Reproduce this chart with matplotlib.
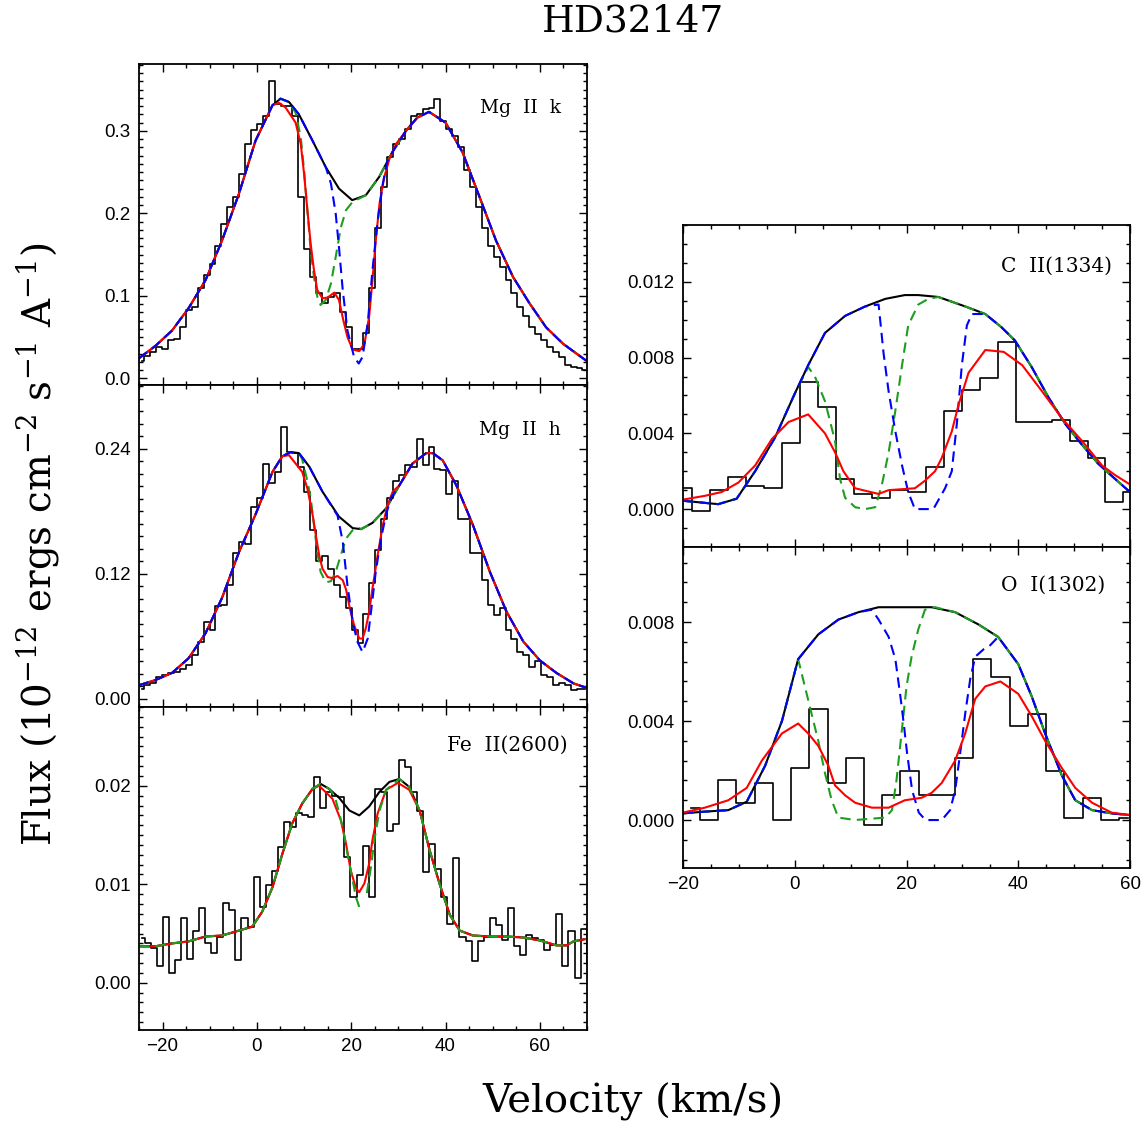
import numpy as np
import matplotlib
matplotlib.use('Agg')
import matplotlib.pyplot as plt
from matplotlib.ticker import MultipleLocator, FormatStrFormatter

plt.rcParams['mathtext.fontset'] = 'dejavuserif'
plt.rcParams['axes.unicode_minus'] = True

BLUE = '#0000ff'
GREEN = '#1e9e1e'
RED = '#ff0000'

# ---------------- Mg II k ----------------
mgk_hist_v0, mgk_hist_dv = -24.47, 1.255   # centre of first bin, bin width
mgk_hist = [0.021, 0.027, 0.032, 0.038, 0.035, 0.047, 0.048, 0.062, 0.083, 0.087,
            0.110, 0.125, 0.139, 0.160, 0.187, 0.208, 0.220, 0.248, 0.284, 0.301,
            0.308, 0.318, 0.360, 0.333, 0.330, 0.330, 0.318, 0.220, 0.157, 0.123,
            0.104, 0.091, 0.099, 0.103, 0.081, 0.062, 0.035, 0.035, 0.055, 0.110,
            0.182, 0.232, 0.268, 0.284, 0.290, 0.302, 0.318, 0.320, 0.326, 0.328,
            0.338, 0.312, 0.302, 0.294, 0.280, 0.252, 0.232, 0.208, 0.182, 0.161,
            0.147, 0.135, 0.119, 0.103, 0.087, 0.075, 0.062, 0.054, 0.046, 0.038,
            0.032, 0.026, 0.016, 0.014, 0.012, 0.010]
mgk_v = [-25.1, -21.6, -18.0, -14.5, -10.9, -7.4, -3.8, -0.3, 3.3, 5.0, 6.8, 8.9, 11.8,
         14.6, 17.4, 20.2, 23.1, 25.9, 28.7, 31.6, 34.0, 36.5, 40.0, 43.6, 47.2, 50.7,
         54.3, 57.8, 61.3, 64.9, 69.7, 71.0]
mgk_f = [0.024, 0.039, 0.058, 0.085, 0.119, 0.167, 0.224, 0.288, 0.331, 0.339, 0.335,
         0.320, 0.288, 0.256, 0.230, 0.216, 0.222, 0.244, 0.274, 0.300, 0.316, 0.323,
         0.310, 0.274, 0.220, 0.167, 0.123, 0.091, 0.062, 0.042, 0.022, 0.019]
mgk_red_v = [4.7, 6.1, 8.2, 9.3, 10.0, 10.7, 11.4, 12.1, 12.8, 13.9, 15.0, 16.4, 17.4,
             18.3, 19.2, 20.3, 21.7, 22.8, 23.8, 24.5, 25.2, 26.0, 27.0, 28.1, 29.5, 31.6]
mgk_red_f = [0.334, 0.328, 0.310, 0.284, 0.248, 0.204, 0.163, 0.131, 0.107, 0.097, 0.098,
             0.104, 0.095, 0.071, 0.050, 0.035, 0.033, 0.042, 0.075, 0.119, 0.167, 0.212,
             0.244, 0.266, 0.284, 0.300]
mgk_blue_v = [15.7, 16.7, 17.4, 18.2, 19.2, 20.6, 21.6, 22.4, 23.5, 24.5, 25.6, 26.7, 27.7]
mgk_blue_f = [0.236, 0.200, 0.159, 0.107, 0.058, 0.026, 0.018, 0.026, 0.067, 0.131, 0.191,
              0.236, 0.264]
mgk_green_v = [8.2, 9.3, 10.0, 10.7, 11.4, 12.1, 12.8, 13.5, 14.6, 15.7, 16.7, 17.8, 18.9, 20.3]
mgk_green_f = [0.322, 0.292, 0.252, 0.204, 0.155, 0.123, 0.099, 0.089, 0.095, 0.115, 0.147,
               0.183, 0.204, 0.214]

# ---------------- Mg II h ----------------
mgh_hist_v0, mgh_hist_dv = -24.47, 1.255
mgh_hist = [0.010, 0.013, 0.015, 0.021, 0.023, 0.025, 0.026, 0.029, 0.033, 0.042,
            0.055, 0.074, 0.066, 0.089, 0.090, 0.109, 0.140, 0.151, 0.149, 0.184,
            0.193, 0.226, 0.207, 0.218, 0.261, 0.237, 0.236, 0.223, 0.199, 0.162,
            0.132, 0.137, 0.125, 0.109, 0.098, 0.087, 0.066, 0.054, 0.082, 0.111,
            0.143, 0.173, 0.193, 0.209, 0.215, 0.225, 0.223, 0.250, 0.225, 0.242,
            0.221, 0.220, 0.197, 0.209, 0.173, 0.173, 0.140, 0.140, 0.114, 0.090,
            0.081, 0.087, 0.066, 0.058, 0.045, 0.042, 0.031, 0.036, 0.023, 0.021,
            0.013, 0.015, 0.013, 0.009, 0.010, 0.010]
mgh_v = [-25.1, -21.6, -18.0, -14.5, -10.9, -7.4, -3.8, -0.3, 3.3, 5.4, 7.2, 8.9, 11.1,
         13.9, 17.4, 20.3, 22.1, 24.5, 27.4, 30.2, 33.0, 35.9, 37.3, 39.4, 42.3, 45.8,
         49.4, 52.9, 56.5, 60.0, 63.5, 67.1, 70.3]
mgh_f = [0.013, 0.018, 0.025, 0.039, 0.063, 0.097, 0.141, 0.177, 0.218, 0.233, 0.237,
         0.236, 0.223, 0.199, 0.175, 0.164, 0.163, 0.169, 0.183, 0.205, 0.226, 0.236,
         0.236, 0.229, 0.205, 0.167, 0.122, 0.084, 0.055, 0.037, 0.025, 0.015, 0.010]
mgh_red_v = [6.8, 9.6, 10.7, 11.8, 12.5, 13.2, 13.9, 15.0, 16.0, 17.1, 18.2, 18.9, 19.7,
             20.6, 21.7, 22.4, 23.1, 23.8, 24.5, 25.6, 26.7, 27.7, 28.8]
mgh_red_f = [0.234, 0.218, 0.202, 0.177, 0.157, 0.138, 0.125, 0.117, 0.116, 0.118, 0.114,
             0.105, 0.087, 0.071, 0.058, 0.058, 0.068, 0.084, 0.106, 0.138, 0.167, 0.186,
             0.199]
mgh_blue_v = [17.1, 18.2, 19.2, 20.3, 21.3, 22.4, 23.5, 24.2, 25.2, 26.3, 27.4, 28.4]
mgh_blue_f = [0.176, 0.151, 0.109, 0.074, 0.055, 0.045, 0.058, 0.084, 0.122, 0.154, 0.177,
              0.193]
mgh_green_v = [9.6, 10.7, 11.4, 12.1, 12.8, 13.5, 14.6, 15.7, 16.7, 17.8, 18.9, 20.3, 21.7]
mgh_green_f = [0.230, 0.209, 0.193, 0.167, 0.141, 0.122, 0.112, 0.113, 0.122, 0.138, 0.154,
               0.162, 0.164]

# ---------------- Fe II 2600 ----------------
fe_hist_v0, fe_hist_dv = -24.46, 1.284
fe_hist = [0.0045, 0.0040, 0.0035, 0.0017, 0.0067, 0.0010, 0.0023, 0.0066, 0.0024, 0.0053,
           0.0076, 0.0040, 0.0030, 0.0047, 0.0081, 0.0074, 0.0023, 0.0066, 0.0057, 0.0107,
           0.0077, 0.0099, 0.0114, 0.0138, 0.0163, 0.0158, 0.0172, 0.0170, 0.0168, 0.0209,
           0.0177, 0.0194, 0.0190, 0.0189, 0.0128, 0.0087, 0.0109, 0.0139, 0.0087, 0.0197,
           0.0194, 0.0154, 0.0161, 0.0226, 0.0219, 0.0194, 0.0174, 0.0113, 0.0141, 0.0116,
           0.0087, 0.0060, 0.0127, 0.0047, 0.0042, 0.0022, 0.0042, 0.0047, 0.0066, 0.0059,
           0.0043, 0.0076, 0.0037, 0.0028, 0.0049, 0.0045, 0.0043, 0.0033, 0.0038, 0.0070,
           0.0017, 0.0053, 0.0005, 0.0055, 0.0020]
fe_v = [-25.1, -21.6, -18.0, -14.5, -10.9, -7.4, -3.8, -1.0, 1.1, 3.3, 5.4, 7.5, 9.6, 11.8,
        13.5, 15.3, 17.4, 19.6, 21.7, 23.8, 26.0, 28.1, 30.2, 32.3, 34.5, 36.6, 38.7, 40.9,
        43.0, 45.8, 49.4, 52.9, 56.5, 60.0, 63.5, 65.7, 67.1, 70.3]
fe_f = [0.0037, 0.0037, 0.0040, 0.0042, 0.0047, 0.0048, 0.0053, 0.0057, 0.0072, 0.0097,
        0.0131, 0.0162, 0.0182, 0.0197, 0.0202, 0.0197, 0.0188, 0.0175, 0.0170, 0.0179,
        0.0194, 0.0204, 0.0207, 0.0199, 0.0175, 0.0135, 0.0101, 0.0069, 0.0053, 0.0048,
        0.0047, 0.0047, 0.0046, 0.0043, 0.0038, 0.0038, 0.0042, 0.0045]
fe_red_v = [13.2, 16.0, 17.8, 18.9, 19.9, 21.0, 21.7, 22.8, 23.8, 24.5, 25.6, 27.4, 29.9, 32.3]
fe_red_f = [0.0200, 0.0187, 0.0165, 0.0141, 0.0114, 0.0096, 0.0092, 0.0101, 0.0121, 0.0145,
            0.0172, 0.0196, 0.0203, 0.0196]
fe_green1_v = [16.0, 16.7, 18.2, 19.2, 20.3, 21.0, 21.7]
fe_green1_f = [0.0193, 0.0186, 0.0158, 0.0131, 0.0104, 0.0087, 0.0077]
fe_green2_v = [23.3, 24.2, 24.9, 26.0, 27.4, 30.2]
fe_green2_f = [0.0091, 0.0118, 0.0145, 0.0175, 0.0196, 0.0207]

# ---------------- C II 1334 ----------------
c2_hist_v0, c2_hist_dv = -20.06, 3.22
c2_hist = [0.0011, -0.0001, 0.0010, 0.0017, 0.0012, 0.0011, 0.0035, 0.0067, 0.0054, 0.0016,
           0.0008, 0.0006, 0.0010, 0.0009, 0.0022, 0.0052, 0.0063, 0.0069, 0.0088, 0.0046,
           0.0046, 0.0047, 0.0036, 0.0027, 0.0004, 0.0009]
c2_v = [-20.0, -13.7, -10.4, -7.1, -3.5, 0.0, 2.4, 5.4, 9.0, 12.6, 16.2, 19.7, 22.1, 25.7,
        30.5, 34.1, 37.0, 39.4, 42.4, 45.4, 48.4, 51.4, 54.3, 57.3, 60.0]
c2_f = [0.00044, 0.00026, 0.00055, 0.0020, 0.0038, 0.0061, 0.0076, 0.0093, 0.0102, 0.0107,
        0.0111, 0.0113, 0.0113, 0.0112, 0.0107, 0.0103, 0.0096, 0.0089, 0.0075, 0.0059,
        0.0045, 0.0034, 0.0024, 0.0016, 0.0009]
c2_blue_v = [15.0, 15.9, 16.8, 18.0, 19.2, 20.3, 21.5, 22.7, 24.8, 26.9, 28.1, 29.0, 29.9,
             30.8, 31.7, 34.1]
c2_blue_f = [0.0108, 0.0082, 0.0062, 0.0041, 0.0023, 0.0009, 0.0000, 0.0000, 0.0000,
             0.0011, 0.0020, 0.0045, 0.0076, 0.0097, 0.0103, 0.0103]
c2_green_v = [2.4, 3.6, 5.4, 7.2, 8.1, 9.0, 10.8, 12.6, 14.4, 15.6, 16.8, 18.0, 19.2, 20.3,
              22.1, 23.9]
c2_green_f = [0.0075, 0.0070, 0.0057, 0.0036, 0.0016, 0.0006, 0.0001, 0.0000, 0.0001,
              0.0013, 0.0030, 0.0052, 0.0076, 0.0097, 0.0108, 0.0111]
c2_red_v = [-20.0, -16.1, -13.1, -10.1, -7.1, -4.1, -1.1, 2.4, 5.4, 7.2, 8.7, 10.8, 15.0,
            16.8, 21.5, 23.3, 25.1, 26.3, 28.1, 29.3, 31.1, 34.1, 37.4, 40.7, 44.3, 47.8,
            51.4, 55.0, 57.3, 60.0]
c2_red_f = [0.0005, 0.0007, 0.0009, 0.0014, 0.0023, 0.0037, 0.0046, 0.0050, 0.0040, 0.0030,
            0.0020, 0.0011, 0.0008, 0.0010, 0.0011, 0.0015, 0.0020, 0.0027, 0.0041, 0.0055,
            0.0072, 0.0084, 0.0083, 0.0076, 0.0062, 0.0048, 0.0036, 0.0023, 0.0018, 0.0013]

# ---------------- O I 1302 ----------------
o1_hist_v0, o1_hist_dv = -18.59, 3.26
o1_hist = [0.0005, 0.0000, 0.0016, 0.0007, 0.0015, 0.0000, 0.0021, 0.0045, 0.0015, 0.0025,
           -0.0002, 0.0010, 0.0020, 0.0010, 0.0010, 0.0025, 0.0065, 0.0058, 0.0038, 0.0043,
           0.0020, 0.0001, 0.0009, 0.0000, 0.0001]
o1_v = [-20.0, -16.1, -11.9, -8.6, -5.3, -2.3, 0.6, 4.2, 7.8, 11.4, 15.0, 19.7, 24.5,
        28.7, 32.9, 36.4, 40.0, 42.4, 44.8, 47.8, 50.2, 53.2, 56.7, 60.0]
o1_f = [0.00027, 0.00034, 0.0004, 0.00074, 0.0022, 0.0040, 0.0065, 0.0075, 0.0081, 0.0084,
        0.0086, 0.0086, 0.0086, 0.0084, 0.0079, 0.0074, 0.0063, 0.0050, 0.0035, 0.0018,
        0.0008, 0.0004, 0.00027, 0.0002]
o1_blue_v = [13.8, 15.0, 16.8, 18.0, 18.9, 19.5, 20.1, 21.0, 22.2, 23.4, 26.3, 27.8, 28.7,
             29.6, 30.5, 31.4, 32.3, 33.8, 34.7, 36.4]
o1_blue_f = [0.0085, 0.0081, 0.0074, 0.0065, 0.0050, 0.0039, 0.0027, 0.0012, 0.0003, 0.0,
             0.0, 0.0004, 0.0012, 0.0027, 0.0043, 0.0057, 0.0066, 0.0069, 0.0070, 0.0074]
o1_green_v = [0.6, 1.8, 3.0, 4.2, 5.4, 6.6, 7.8, 10.8, 16.2, 17.4, 18.2, 19.1, 20.0, 20.9,
              22.1, 23.3, 25.1]
o1_green_f = [0.0065, 0.0054, 0.0043, 0.0032, 0.0019, 0.0008, 0.0001, 0.0, 0.0001, 0.0004,
              0.0016, 0.0035, 0.0054, 0.0066, 0.0077, 0.0085, 0.0086]
o1_red_v = [-20.0, -16.1, -11.9, -8.6, -5.9, -2.3, 0.6, 2.4, 4.2, 6.0, 7.2, 9.0, 10.8,
            13.8, 16.8, 19.7, 22.7, 24.5, 26.3, 28.7, 30.5, 32.3, 34.1, 36.8, 40.0, 42.4,
            44.8, 47.8, 50.2, 53.2, 56.7, 60.0]
o1_red_f = [0.0003, 0.0005, 0.0008, 0.0013, 0.0024, 0.0035, 0.0039, 0.0035, 0.0030, 0.0022,
            0.0014, 0.0010, 0.0007, 0.0005, 0.0005, 0.0008, 0.0009, 0.0011, 0.0015, 0.0024,
            0.0035, 0.0049, 0.0054, 0.0056, 0.0051, 0.0042, 0.0032, 0.0021, 0.0013, 0.0007,
            0.0003, 0.0002]


def merge(bv, bf, sv, sf):
    bv = np.asarray(bv, float); bf = np.asarray(bf, float)
    sv = np.asarray(sv, float); sf = np.asarray(sf, float)
    m = (bv < sv[0]) | (bv > sv[-1])
    v = np.concatenate([bv[m], sv]); f = np.concatenate([bf[m], sf])
    o = np.argsort(v)
    return v[o], f[o]


def hist_centers(v0, dv, vals):
    return v0 + dv * np.arange(len(vals))


fig = plt.figure(figsize=(11.47, 11.25), dpi=100)

LW = 1.5
HLW = 1.2
DASH = (5, 3)
SERIF = 'DejaVu Serif'

def style(ax, xlim, ylim, ymaj, ymin, fmt, show_x):
    ax.set_xlim(*xlim)
    ax.set_ylim(*ylim)
    ax.xaxis.set_major_locator(MultipleLocator(20))
    ax.xaxis.set_minor_locator(MultipleLocator(5))
    ax.yaxis.set_major_locator(MultipleLocator(ymaj))
    ax.yaxis.set_minor_locator(MultipleLocator(ymin))
    ax.yaxis.set_major_formatter(FormatStrFormatter(fmt))
    ax.tick_params(which='both', direction='in', top=True, right=True, width=1.0,
                   labelsize=13.5, pad=6)
    ax.tick_params(which='major', length=6)
    ax.tick_params(which='minor', length=3)
    for lab in ax.get_xticklabels() + ax.get_yticklabels():
        lab.set_family('Liberation Sans')
    if not show_x:
        ax.tick_params(labelbottom=False)
    for s in ax.spines.values():
        s.set_linewidth(1.3)


def label(ax, x, y, txt, size=14.5):
    ax.text(x, y, txt, transform=ax.transAxes, ha='right', va='center',
            fontsize=size, family=SERIF)


# panel 1: Mg II k
ax1 = fig.add_axes([0.1212, 0.6578, 0.3906, 0.2853])
ax1.step(hist_centers(mgk_hist_v0, mgk_hist_dv, mgk_hist), mgk_hist, where='mid',
         color='black', lw=HLW)
ax1.plot(mgk_v, mgk_f, color='black', lw=LW)
gv, gf = merge(mgk_v, mgk_f, mgk_green_v, mgk_green_f)
ax1.plot(gv, gf, color=GREEN, lw=LW, dashes=DASH)
rv, rf = merge(mgk_v, mgk_f, mgk_red_v, mgk_red_f)
ax1.plot(rv, rf, color=RED, lw=LW)
bv, bf = merge(mgk_v, mgk_f, mgk_blue_v, mgk_blue_f)
ax1.plot(bv, bf, color=BLUE, lw=LW, dashes=DASH)
style(ax1, (-25, 70), (-0.008, 0.381), 0.1, 0.01, '%.1f', False)
label(ax1, 0.942, 0.863, 'Mg  II  k', 13.5)

# panel 2: Mg II h
ax2 = fig.add_axes([0.1212, 0.3716, 0.3906, 0.2862])
ax2.step(hist_centers(mgh_hist_v0, mgh_hist_dv, mgh_hist), mgh_hist, where='mid',
         color='black', lw=HLW)
ax2.plot(mgh_v, mgh_f, color='black', lw=LW)
gv, gf = merge(mgh_v, mgh_f, mgh_green_v, mgh_green_f)
ax2.plot(gv, gf, color=GREEN, lw=LW, dashes=DASH)
rv, rf = merge(mgh_v, mgh_f, mgh_red_v, mgh_red_f)
ax2.plot(rv, rf, color=RED, lw=LW)
bv, bf = merge(mgh_v, mgh_f, mgh_blue_v, mgh_blue_f)
ax2.plot(bv, bf, color=BLUE, lw=LW, dashes=DASH)
style(ax2, (-25, 70), (-0.0077, 0.3014), 0.12, 0.012, '%.2f', False)
label(ax2, 0.942, 0.860, 'Mg  II  h', 13.5)

# panel 3: Fe II
ax3 = fig.add_axes([0.1212, 0.0844, 0.3906, 0.2871])
ax3.step(hist_centers(fe_hist_v0, fe_hist_dv, fe_hist), fe_hist, where='mid',
         color='black', lw=HLW)
ax3.plot(fe_v, fe_f, color='black', lw=LW)
rv, rf = merge(fe_v, fe_f, fe_red_v, fe_red_f)
ax3.plot(rv, rf, color=RED, lw=LW)
fv = np.asarray(fe_v); ff = np.asarray(fe_f)
mL = fv < fe_green1_v[0]
mR = fv > fe_green2_v[-1]
gv = np.concatenate([fv[mL], fe_green1_v, [np.nan], fe_green2_v, fv[mR]])
gf = np.concatenate([ff[mL], fe_green1_f, [np.nan], fe_green2_f, ff[mR]])
ax3.plot(gv, gf, color=GREEN, lw=LW, dashes=DASH)
style(ax3, (-25, 70), (-0.0048, 0.028), 0.01, 0.001, '%.2f', True)
label(ax3, 0.957, 0.882, 'Fe  II(2600)')

# panel 4: C II
ax4 = fig.add_axes([0.5955, 0.5138, 0.3897, 0.2862])
ax4.step(hist_centers(c2_hist_v0, c2_hist_dv, c2_hist), c2_hist, where='mid',
         color='black', lw=HLW)
ax4.plot(c2_v, c2_f, color='black', lw=LW)
gv, gf = merge(c2_v, c2_f, c2_green_v, c2_green_f)
ax4.plot(gv, gf, color=GREEN, lw=LW, dashes=DASH)
bv, bf = merge(c2_v, c2_f, c2_blue_v, c2_blue_f)
ax4.plot(bv, bf, color=BLUE, lw=LW, dashes=DASH)
ax4.plot(c2_red_v, c2_red_f, color=RED, lw=LW)
style(ax4, (-20, 60), (-0.0020, 0.0150), 0.004, 0.001, '%.3f', False)
label(ax4, 0.960, 0.873, 'C  II(1334)')

# panel 5: O I
ax5 = fig.add_axes([0.5955, 0.2284, 0.3897, 0.2853])
ax5.step(hist_centers(o1_hist_v0, o1_hist_dv, o1_hist), o1_hist, where='mid',
         color='black', lw=HLW)
ax5.plot(o1_v, o1_f, color='black', lw=LW)
gv, gf = merge(o1_v, o1_f, o1_green_v, o1_green_f)
ax5.plot(gv, gf, color=GREEN, lw=LW, dashes=DASH)
bv, bf = merge(o1_v, o1_f, o1_blue_v, o1_blue_f)
ax5.plot(bv, bf, color=BLUE, lw=LW, dashes=DASH)
ax5.plot(o1_red_v, o1_red_f, color=RED, lw=LW)
style(ax5, (-20, 60), (-0.00194, 0.01103), 0.004, 0.0008, '%.3f', True)
label(ax5, 0.944, 0.882, 'O  I(1302)')

fig.text(0.552, 0.981, 'HD32147', ha='center', va='center', fontsize=27,
         family=SERIF)
fig.text(0.552, 0.0204, 'Velocity (km/s)', ha='center', va='center', fontsize=29,
         family=SERIF)
fig.text(0.033, 0.516, r'Flux (10$^{-12}$ ergs cm$^{-2}$ s$^{-1}$ A$^{-1}$)',
         ha='center', va='center', rotation=90, fontsize=28, family=SERIF)

fig.savefig('out.png', dpi=100)
